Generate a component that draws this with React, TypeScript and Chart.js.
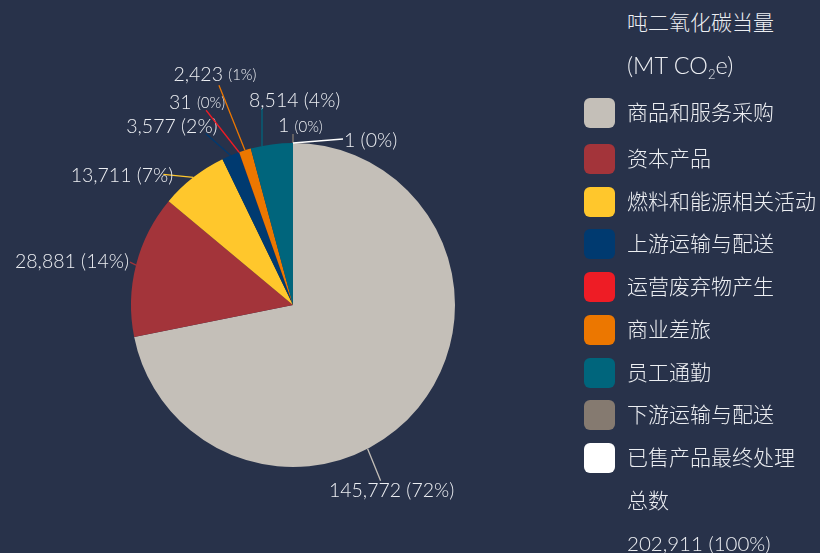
import React, { useEffect, useRef } from "react";
import { Chart, registerables } from "chart.js";

Chart.register(...registerables);

// ---------- data ----------
const categories = [
  "商品和服务采购",
  "资本产品",
  "燃料和能源相关活动",
  "上游运输与配送",
  "运营废弃物产生",
  "商业差旅",
  "员工通勤",
  "下游运输与配送",
  "已售产品最终处理",
];
const values = [145772, 28881, 13711, 3577, 31, 2423, 8514, 1, 1];
const colors = [
  "#c4bfb8",
  "#a3343a",
  "#ffc72c",
  "#003a70",
  "#ee1c25",
  "#ec7700",
  "#00657c",
  "#857a70",
  "#ffffff",
];
const titleLine1 = "吨二氧化碳当量";
const totalTitle = "总数";

// ---------- style / layout ----------
const BG = "#28324a";
const TEXT = "#eceef2";
const FONT = "Lato, 'Noto Sans CJK SC', sans-serif";
const WEIGHT = 300;

const total = values.reduce((a, b) => a + b, 0);
const fmt = (v: number) => v.toLocaleString("en-US");
const pct = (v: number) => `(${Math.round((v / total) * 100)}%)`;

// label layout: anchor fraction in slice, leader offset, text offset, alignment
const LABEL_LAYOUT = [
  { frac: 0.59, lx: 13, ly: 32, tx: 11, ty: 10, align: "center", small: false },
  { frac: 0.5, lx: -6, ly: -3, tx: -1, ty: 0, align: "right", small: false },
  { frac: 0.5, lx: -30, ly: -3, tx: 10, ty: 1, align: "right", small: false },
  { frac: 0.5, lx: -25, ly: -22, tx: 12, ty: -7, align: "right", small: false },
  { frac: 0.5, lx: -33, ly: -42, tx: 19, ty: -8, align: "right", small: true },
  { frac: 0.5, lx: -26, ly: -65, tx: -4, ty: -11, align: "center", small: true },
  { frac: 0.27, lx: 0, ly: -38, tx: -13, ty: -7, align: "left", small: false },
  { frac: 0.5, lx: 0, ly: -9, tx: -15, ty: -8, align: "left", small: true },
  { frac: 0.5, lx: 50, ly: -4, tx: 1, ty: 2, align: "left", small: false },
];

const labelPlugin = {
  id: "pieLabels",
  afterDatasetsDraw(chart: any) {
    const ctx = chart.ctx;
    const meta = chart.getDatasetMeta(0);
    meta.data.forEach((arc: any, i: number) => {
      const L = LABEL_LAYOUT[i];
      const p = arc.getProps(["x", "y", "startAngle", "endAngle", "outerRadius"], true);
      const a = p.startAngle + L.frac * (p.endAngle - p.startAngle);
      const ax = p.x + p.outerRadius * Math.cos(a);
      const ay = p.y + p.outerRadius * Math.sin(a);
      const ex = ax + L.lx;
      const ey = ay + L.ly;
      ctx.save();
      ctx.strokeStyle = colors[i];
      ctx.lineWidth = 1.3;
      ctx.beginPath();
      ctx.moveTo(ax, ay);
      ctx.lineTo(ex, ey);
      ctx.stroke();

      const big = `${WEIGHT} 19.5px ${FONT}`;
      const small = L.small ? `${WEIGHT} 15px ${FONT}` : big;
      const numText = fmt(values[i]) + " ";
      const pctText = pct(values[i]);
      ctx.font = big;
      const w1 = ctx.measureText(numText).width;
      ctx.font = small;
      const w2 = ctx.measureText(pctText).width;
      const W = w1 + w2;
      let tx = ex + L.tx;
      if (L.align === "right") tx -= W;
      else if (L.align === "center") tx -= W / 2;
      const ty = ey + L.ty;
      ctx.textAlign = "left";
      ctx.textBaseline = "middle";
      ctx.fillStyle = TEXT;
      ctx.font = big;
      ctx.fillText(numText, tx, ty);
      ctx.font = small;
      ctx.fillText(pctText, tx + w1, ty + (L.small ? 1 : 0));
      ctx.restore();
    });
  },
};

function PieChart() {
  const ref = useRef<HTMLCanvasElement | null>(null);
  useEffect(() => {
    if (!ref.current) return;
    const chart = new Chart(ref.current, {
      type: "pie",
      data: {
        labels: categories,
        datasets: [
          {
            data: values,
            backgroundColor: colors,
            borderWidth: 0,
          },
        ],
      },
      options: {
        responsive: false,
        animation: false,
        layout: { padding: { top: 143, bottom: 86, left: 131, right: 131 } },
        plugins: {
          legend: { display: false },
          tooltip: { enabled: false },
        },
      },
      plugins: [labelPlugin],
    });
    return () => chart.destroy();
  }, []);
  return <canvas ref={ref} width={586} height={553} style={{ position: "absolute", left: 0, top: 0 }} />;
}

function Legend() {
  const centers = categories.map((_, i) => (i === 0 ? 113 : 159 + (i - 1) * 42.7));
  const textStyle: React.CSSProperties = {
    position: "absolute",
    left: 627,
    fontSize: 21,
    fontWeight: WEIGHT,
    lineHeight: "30px",
    color: TEXT,
    whiteSpace: "nowrap",
    fontFamily: FONT,
  };
  return (
    <>
      <div style={{ ...textStyle, top: 22 - 15 }}>{titleLine1}</div>
      <div style={{ ...textStyle, top: 66 - 16, fontSize: 23.5 }}>
        (MT CO<sub style={{ fontSize: 13, verticalAlign: "-5px", lineHeight: 0 }}>2</sub>e)
      </div>
      {categories.map((c, i) => (
        <React.Fragment key={c}>
          <div
            style={{
              position: "absolute",
              left: 584,
              top: centers[i] - 15,
              width: 31,
              height: 30,
              borderRadius: 6,
              background: colors[i],
            }}
          />
          <div style={{ ...textStyle, top: centers[i] - 16 }}>{c}</div>
        </React.Fragment>
      ))}
      <div style={{ ...textStyle, top: 500 - 15 }}>{totalTitle}</div>
      <div style={{ ...textStyle, top: 543 - 15, fontSize: 20.5 }}>
        {fmt(total)} (100%)
      </div>
    </>
  );
}

export default function App() {
  return (
    <div
      style={{
        position: "absolute",
        left: 0,
        top: 0,
        width: 820,
        height: 553,
        overflow: "hidden",
        background: BG,
        fontFamily: FONT,
      }}
    >
      <PieChart />
      <Legend />
    </div>
  );
}
